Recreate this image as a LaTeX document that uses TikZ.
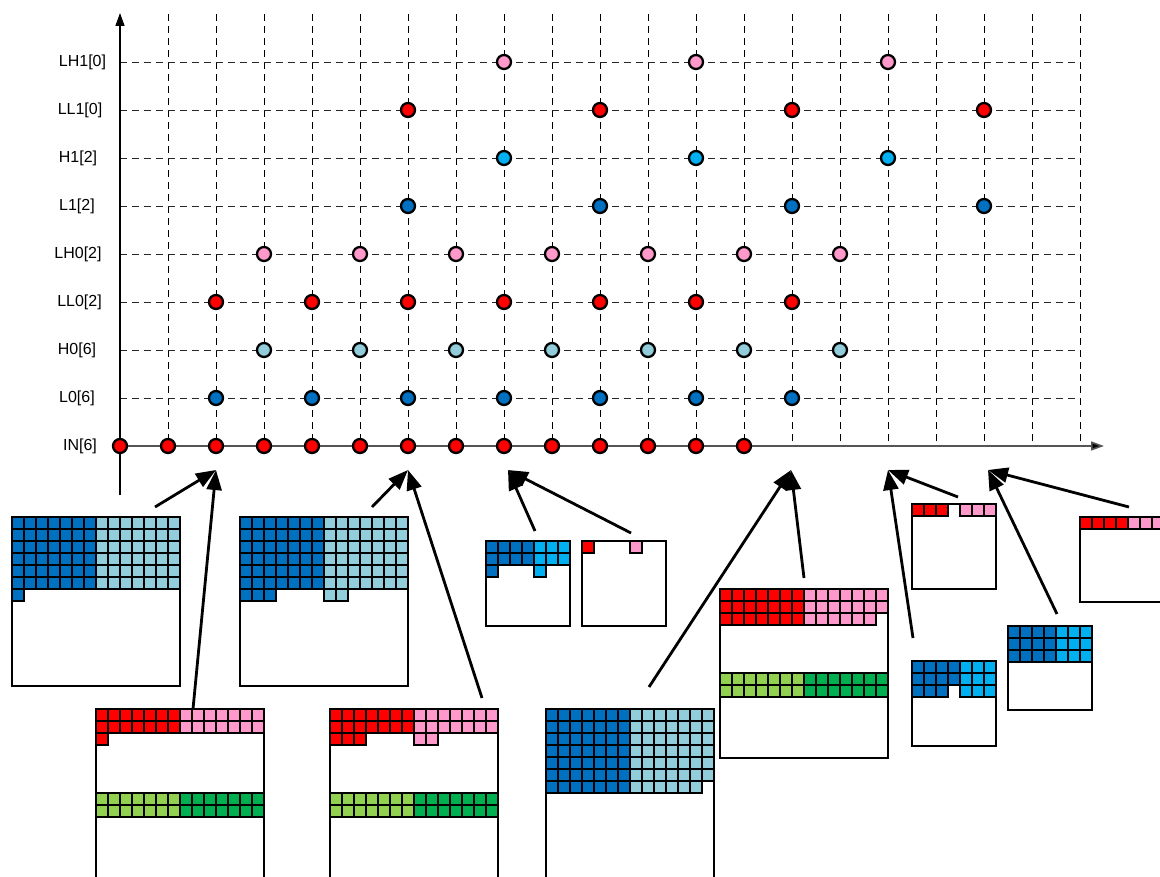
\documentclass[tikz,border=0pt]{standalone}
\usepackage{fontspec}
\setmainfont{Liberation Sans}
\usetikzlibrary{arrows.meta}
\definecolor{dkblue}{HTML}{0070C0}
\definecolor{ltblue}{HTML}{92CDDC}
\definecolor{cyanb}{HTML}{00B0F0}
\definecolor{redc}{HTML}{FF0000}
\definecolor{pinkc}{HTML}{FF99CC}
\definecolor{ltgreen}{HTML}{92D050}
\definecolor{greenc}{HTML}{00B050}
\definecolor{axisgray}{HTML}{555555}
\newcommand{\CellRow}[6]{%
  \foreach \cc in {#4,...,#5}{\draw[cellst,fill=#6] ({#1+12*\cc},{#2+12*#3}) rectangle ++(12,12);}}
\newcommand{\BufBox}[4]{\draw[boxst] (#1,#2) rectangle ++(#3,#4);}
\tikzset{
  dot/.style={circle,draw=black,line width=2.3pt,minimum size=14pt,inner sep=0pt},
  cellst/.style={draw=black,line width=1.8pt},
  boxst/.style={draw=black,line width=2.8pt},
  gridst/.style={dashed,dash pattern=on 7pt off 5pt,line width=0.9pt},
  arr/.style={line width=2.8pt,-{Triangle[length=20pt,width=15pt]}},
  lbl/.style={font=\fontsize{16}{18}\selectfont,inner sep=0pt}
}
\begin{document}
\begin{tikzpicture}[x=1pt,y=-1pt]
\useasboundingbox (0,0) rectangle (1160,877);
\clip (0,0) rectangle (1160,877);
\fill[white] (0,0) rectangle (1160,877);
% grid
\foreach \k in {1,...,20}{\draw[gridst] ({120+48*\k},14) -- ({120+48*\k},446);}
\foreach \r in {1,...,8}{\draw[gridst,draw=black!85] (120,{446-48*\r}) -- (1080,{446-48*\r});}
% axes
\draw[line width=1.3pt,-{Triangle[length=13pt,width=9pt]}] (120,495) -- (120,13);
\draw[line width=1.6pt,draw=axisgray,-{Triangle[length=13pt,width=9pt,fill=black]}] (120,446) -- (1104,446);
% labels
\node[lbl] (lab0) at (80,446) {IN[6]};
\node[lbl] (lab1) at (77,398) {L0[6]};
\node[lbl] (lab2) at (77,350) {H0[6]};
\node[lbl] (lab3) at (79.5,302) {LL0[2]};
\node[lbl] (lab4) at (78,254) {LH0[2]};
\node[lbl] (lab5) at (77,206) {L1[2]};
\node[lbl] (lab6) at (78,158) {H1[2]};
\node[lbl] (lab7) at (80,110) {LL1[0]};
\node[lbl] (lab8) at (82.5,62) {LH1[0]};
% dots
\foreach \k in {0,...,13}{\node[dot,fill=redc] (in\k) at ({120+48*\k},446) {};}
\foreach \k in {2,4,...,14}{\node[dot,fill=dkblue] (lz\k) at ({120+48*\k},398) {};}
\foreach \k in {3,5,...,15}{\node[dot,fill=ltblue] (hz\k) at ({120+48*\k},350) {};}
\foreach \k in {2,4,...,14}{\node[dot,fill=redc] (llz\k) at ({120+48*\k},302) {};}
\foreach \k in {3,5,...,15}{\node[dot,fill=pinkc] (lhz\k) at ({120+48*\k},254) {};}
\foreach \k in {6,10,14,18}{\node[dot,fill=dkblue] (lo\k) at ({120+48*\k},206) {};}
\foreach \k in {8,12,16}{\node[dot,fill=cyanb] (ho\k) at ({120+48*\k},158) {};}
\foreach \k in {6,10,14,18}{\node[dot,fill=redc] (llo\k) at ({120+48*\k},110) {};}
\foreach \k in {8,12,16}{\node[dot,fill=pinkc] (lho\k) at ({120+48*\k},62) {};}
% ---- boxes ----
% B1
\foreach \r in {0,...,5}{\CellRow{12}{517}{\r}{0}{6}{dkblue}\CellRow{12}{517}{\r}{7}{13}{ltblue}}
\CellRow{12}{517}{6}{0}{0}{dkblue}
\BufBox{12}{517}{168}{169}
% B2
\foreach \r in {0,...,5}{\CellRow{240}{517}{\r}{0}{6}{dkblue}\CellRow{240}{517}{\r}{7}{13}{ltblue}}
\CellRow{240}{517}{6}{0}{2}{dkblue}\CellRow{240}{517}{6}{7}{8}{ltblue}
\BufBox{240}{517}{168}{169}
% B3
\foreach \r in {0,1}{\CellRow{486}{541}{\r}{0}{3}{dkblue}\CellRow{486}{541}{\r}{4}{6}{cyanb}}
\CellRow{486}{541}{2}{0}{0}{dkblue}\CellRow{486}{541}{2}{4}{4}{cyanb}
\BufBox{486}{541}{84}{85}
% B4
\CellRow{582}{541}{0}{0}{0}{redc}\CellRow{582}{541}{0}{4}{4}{pinkc}
\BufBox{582}{541}{84}{85}
% B5
\foreach \r in {0,1}{\CellRow{96}{709}{\r}{0}{6}{redc}\CellRow{96}{709}{\r}{7}{13}{pinkc}}
\CellRow{96}{709}{2}{0}{0}{redc}
\foreach \r in {7,8}{\CellRow{96}{709}{\r}{0}{6}{ltgreen}\CellRow{96}{709}{\r}{7}{13}{greenc}}
\BufBox{96}{709}{168}{169}
% B6
\foreach \r in {0,1}{\CellRow{330}{709}{\r}{0}{6}{redc}\CellRow{330}{709}{\r}{7}{13}{pinkc}}
\CellRow{330}{709}{2}{0}{2}{redc}\CellRow{330}{709}{2}{7}{8}{pinkc}
\foreach \r in {7,8}{\CellRow{330}{709}{\r}{0}{6}{ltgreen}\CellRow{330}{709}{\r}{7}{13}{greenc}}
\BufBox{330}{709}{168}{169}
% B7
\foreach \r in {0,...,5}{\CellRow{546}{709}{\r}{0}{6}{dkblue}\CellRow{546}{709}{\r}{7}{13}{ltblue}}
\CellRow{546}{709}{6}{0}{6}{dkblue}\CellRow{546}{709}{6}{7}{12}{ltblue}
\BufBox{546}{709}{168}{169}
% B8
\foreach \r in {0,1}{\CellRow{720}{589}{\r}{0}{6}{redc}\CellRow{720}{589}{\r}{7}{13}{pinkc}}
\CellRow{720}{589}{2}{0}{6}{redc}\CellRow{720}{589}{2}{7}{12}{pinkc}
\foreach \r in {7,8}{\CellRow{720}{589}{\r}{0}{6}{ltgreen}\CellRow{720}{589}{\r}{7}{13}{greenc}}
\BufBox{720}{589}{168}{169}
% B9
\CellRow{912}{504}{0}{0}{2}{redc}\CellRow{912}{504}{0}{4}{6}{pinkc}
\BufBox{912}{504}{84}{85}
% B10
\foreach \r in {0,1,2}{\CellRow{1008}{626}{\r}{0}{3}{dkblue}\CellRow{1008}{626}{\r}{4}{6}{cyanb}}
\BufBox{1008}{626}{84}{84}
% B11
\foreach \r in {0,1}{\CellRow{912}{661}{\r}{0}{3}{dkblue}\CellRow{912}{661}{\r}{4}{6}{cyanb}}
\CellRow{912}{661}{2}{0}{2}{dkblue}\CellRow{912}{661}{2}{4}{6}{cyanb}
\BufBox{912}{661}{84}{85}
% B12
\CellRow{1080}{517}{0}{0}{3}{redc}\CellRow{1080}{517}{0}{4}{6}{pinkc}
\BufBox{1080}{517}{84}{85}
% ---- connectors ----
\coordinate (t2) at (216,470);
\coordinate (t6) at (408,470);
\coordinate (t8) at (508,470);
\coordinate (t14) at (791,470);
\coordinate (t16) at (888,470);
\coordinate (t18) at (988,470);
\coordinate (s1) at (155,507);
\coordinate (s2) at (193,709);
\coordinate (s3) at (372,507);
\coordinate (s4) at (482,698);
\coordinate (s5) at (535,531);
\coordinate (s6) at (631,533);
\coordinate (s7) at (649,687);
\coordinate (s8) at (804,578);
\coordinate (s9) at (913,638);
\coordinate (s10) at (958,497);
\coordinate (s11) at (1057,614);
\coordinate (s12) at (1129,507);
\draw[arr] (s1) -- (t2);
\draw[arr] (s2) -- (t2);
\draw[arr] (s3) -- (t6);
\draw[arr] (s4) -- (t6);
\draw[arr] (s5) -- (t8);
\draw[arr] (s6) -- (t8);
\draw[arr] (s7) -- (t14);
\draw[arr] (s8) -- (t14);
\draw[arr] (s9) -- (t16);
\draw[arr] (s10) -- (t16);
\draw[arr] (s11) -- (t18);
\draw[arr] (s12) -- (t18);
\end{tikzpicture}
\end{document}
